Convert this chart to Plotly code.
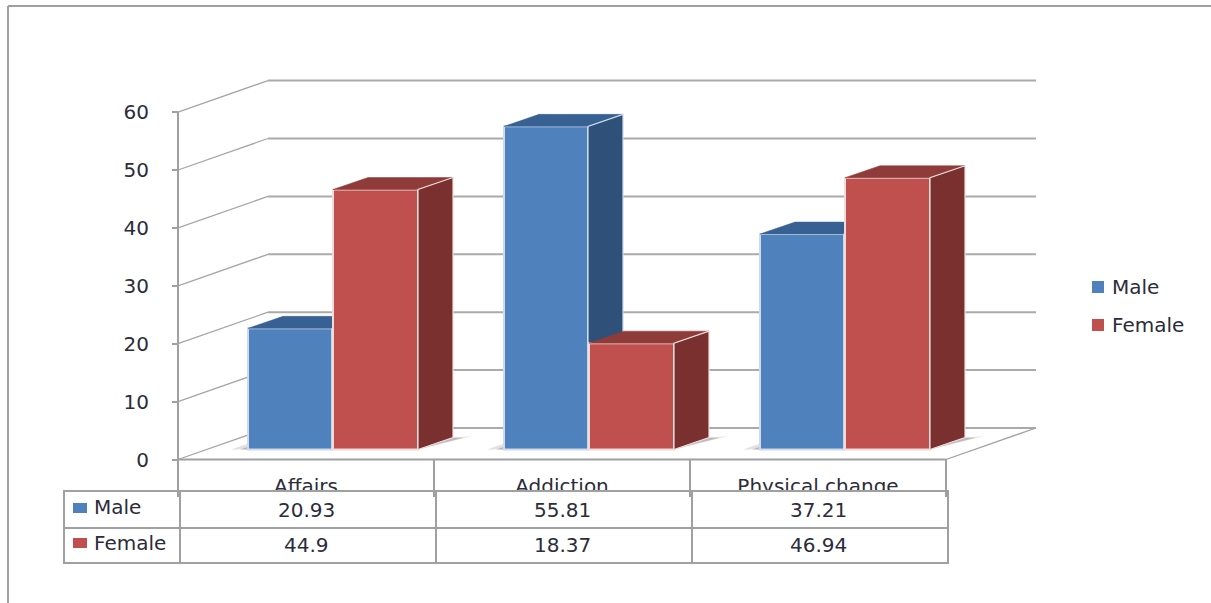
import plotly.graph_objects as go

# Chart data
categories = ["Affairs", "Addiction", "Physical change"]
male = [20.93, 55.81, 37.21]
female = [44.9, 18.37, 46.94]
series_names = ["Male", "Female"]
y_ticks = [0, 10, 20, 30, 40, 50, 60]

W, H = 1211, 603
FONT = "DejaVu Sans"
TEXT = "#2c2c3a"
FS = 20

# Projection of the box: one category = 256 px, one value unit = 5.79 px
X_PX, Y_PX = 256.0, 5.79
X0_PX, Y0_PX = 306.0, 459.5
DEPTH_X, DEPTH_Y = 90 / X_PX, 31.5 / Y_PX      # wall depth
BAR_DX, BAR_DY = 35 / X_PX, 12 / Y_PX          # bar depth
FLOOR = 10 / Y_PX                              # bars stand forward of the back wall
LEFT, RIGHT = -0.5, 2.5

x_range = [-X0_PX / X_PX, (W - X0_PX) / X_PX]
y_range = [(Y0_PX - H) / Y_PX, Y0_PX / Y_PX]

STYLE = {
    "Male": dict(front="#4f81bd", side="#2f5179", top="#386193", edge="#cfdaea",
                 left=-58 / X_PX, width=84 / X_PX),
    "Female": dict(front="#c0504d", side="#7a302e", top="#8f3b39", edge="#eddcdb",
                   left=27 / X_PX, width=85 / X_PX),
}


def px(x):
    return x / W


def py(y):
    return 1 - y / H


fig = go.Figure()

# Walls and floor of the box
for v in y_ticks:
    fig.add_trace(go.Scatter(x=[LEFT, LEFT + DEPTH_X], y=[v, v + DEPTH_Y], mode="lines",
                             line=dict(color="#a6a6a6", width=1.3), showlegend=False, hoverinfo="skip"))
    fig.add_trace(go.Scatter(x=[LEFT + DEPTH_X, RIGHT + DEPTH_X], y=[v + DEPTH_Y, v + DEPTH_Y], mode="lines",
                             line=dict(color="#aaaaaa", width=2), showlegend=False, hoverinfo="skip"))
fig.add_trace(go.Scatter(x=[LEFT, LEFT], y=[y_ticks[0], y_ticks[-1]], mode="lines",
                         line=dict(color="#a0a0a0", width=2), showlegend=False, hoverinfo="skip"))
fig.add_trace(go.Scatter(x=[LEFT, RIGHT], y=[0, 0], mode="lines",
                         line=dict(color="#a0a0a0", width=2), showlegend=False, hoverinfo="skip"))
fig.add_trace(go.Scatter(x=[RIGHT, RIGHT + DEPTH_X], y=[0, DEPTH_Y], mode="lines",
                         line=dict(color="#a0a0a0", width=1.3), showlegend=False, hoverinfo="skip"))

# Soft shadows cast on the floor by each group, a wide pale layer and a darker core
for i in range(len(categories)):
    base_l = i + STYLE["Male"]["left"]
    base_r = i + STYLE["Female"]["left"] + STYLE["Female"]["width"]
    top_r = base_r + BAR_DX
    for reach, drop, tint in ((0.075, 0.0, "rgba(170,170,170,0.30)"), (0.04, 0.25, "rgba(130,130,130,0.40)")):
        fig.add_trace(go.Scatter(
            x=[base_r, top_r, top_r + reach],
            y=[FLOOR, FLOOR + BAR_DY, FLOOR + BAR_DY + 0.2 - drop],
            mode="lines", fill="toself", fillcolor=tint,
            line=dict(width=0), showlegend=False, hoverinfo="skip"))
    for reach, tint in ((0.065, "rgba(170,170,170,0.35)"), (0.03, "rgba(130,130,130,0.45)")):
        fig.add_trace(go.Scatter(
            x=[base_l - reach, base_l, base_l],
            y=[FLOOR, FLOOR, FLOOR + reach * 16],
            mode="lines", fill="toself", fillcolor=tint,
            line=dict(width=0), showlegend=False, hoverinfo="skip"))


def add_series(name, values, xa, ya):
    """Side and top faces as polygons, front face as a bar, all from the values."""
    s = STYLE[name]
    fig.add_trace(go.Bar(x=list(range(len(values))), y=values, base=FLOOR, width=s["width"],
                         offset=s["left"], name=name, xaxis=xa, yaxis=ya, showlegend=False,
                         marker=dict(color=s["front"], line=dict(color=s["edge"], width=2))))
    for i, v in enumerate(values):
        l = i + s["left"]
        r = l + s["width"]
        t = v + FLOOR
        fig.add_trace(go.Scatter(x=[l, r, r + BAR_DX, l + BAR_DX, l],
                                 y=[t, t, t + BAR_DY, t + BAR_DY, t],
                                 mode="lines", fill="toself", fillcolor=s["top"],
                                 line=dict(color=s["top"], width=0.5), xaxis=xa, yaxis=ya,
                                 showlegend=False, hoverinfo="skip"))
        fig.add_trace(go.Scatter(x=[r, r + BAR_DX, r + BAR_DX, r, r],
                                 y=[FLOOR, FLOOR + BAR_DY, t + BAR_DY, t, FLOOR],
                                 mode="lines", fill="toself", fillcolor=s["side"],
                                 line=dict(color=s["edge"], width=1.2), xaxis=xa, yaxis=ya,
                                 showlegend=False, hoverinfo="skip"))


add_series("Male", male, "x2", "y2")
add_series("Female", female, "x3", "y3")

# Outer frame, data table and legend drawn in page fractions
LINE = dict(color="#a0a0a0", width=2)
shapes = [
    dict(type="line", xref="paper", yref="paper", x0=px(8), x1=px(8), y0=py(6), y1=py(H), line=LINE),
    dict(type="line", xref="paper", yref="paper", x0=px(8), x1=px(W), y0=py(6), y1=py(6), line=LINE),
    dict(type="rect", xref="paper", yref="paper", x0=px(64), x1=px(948), y0=py(491), y1=py(563),
         fillcolor="white", line=LINE, layer="above"),
    dict(type="line", xref="paper", yref="paper", x0=px(64), x1=px(948), y0=py(528), y1=py(528),
         line=LINE, layer="above"),
]
for c in (180, 436, 692):
    shapes.append(dict(type="line", xref="paper", yref="paper", x0=px(c), x1=px(c), y0=py(491), y1=py(563),
                       line=LINE, layer="above"))
for c in (178, 434, 690, 946):
    shapes.append(dict(type="line", xref="paper", yref="paper", x0=px(c), x1=px(c), y0=py(459), y1=py(497),
                       line=LINE, layer="above"))

annotations = []


def label(text, x, y, xref="paper", anchor="left"):
    annotations.append(dict(text=text, x=x, y=y, xref=xref, yref="paper", showarrow=False,
                            xanchor=anchor, yanchor="middle",
                            font=dict(family=FONT, size=FS, color=TEXT)))


for name, row_y, sw_y in zip(series_names, (507, 543), (508, 543)):
    color = STYLE[name]["front"]
    shapes.append(dict(type="rect", xref="paper", yref="paper", x0=px(73), x1=px(87),
                       y0=py(sw_y - 5), y1=py(sw_y + 5), fillcolor=color, line=dict(width=0), layer="above"))
    label(name, px(92), py(row_y))
for name, row_y in zip(series_names, (287, 325)):
    color = STYLE[name]["front"]
    shapes.append(dict(type="rect", xref="paper", yref="paper", x0=px(1092), x1=px(1104),
                       y0=py(row_y - 6), y1=py(row_y + 6), fillcolor=color, line=dict(width=0), layer="above"))
    label(name, px(1110), py(row_y))

for i, v in enumerate(male):
    label(f"{v:g}", i, py(510), xref="x", anchor="center")
for i, v in enumerate(female):
    label(f"{v:g}", i, py(545), xref="x", anchor="center")

axis_off = dict(range=x_range, visible=False, fixedrange=True)
yaxis_off = dict(range=y_range, visible=False, fixedrange=True)

fig.update_layout(
    width=W, height=H, margin=dict(l=0, r=0, t=0, b=0),
    paper_bgcolor="white", plot_bgcolor="white", showlegend=False, barmode="overlay",
    shapes=shapes, annotations=annotations,
    font=dict(family=FONT, size=FS, color=TEXT),
    xaxis=dict(range=x_range, domain=[0, 1], anchor="free", position=py(459), showgrid=False,
               zeroline=False, showline=False, ticks="", tickmode="array",
               tickvals=list(range(len(categories))), ticktext=categories, ticklabelstandoff=13,
               fixedrange=True),
    yaxis=dict(range=y_range, domain=[0, 1], anchor="free", position=px(178), showgrid=False,
               zeroline=False, showline=False, ticks="outside", ticklen=6, tickwidth=1.5,
               tickcolor="#a0a0a0", tickmode="array", tickvals=y_ticks,
               ticklabelstandoff=19, fixedrange=True),
    xaxis2=dict(axis_off, overlaying="x", anchor="y2"),
    yaxis2=dict(yaxis_off, overlaying="y", anchor="x2"),
    xaxis3=dict(axis_off, overlaying="x", anchor="y3"),
    yaxis3=dict(yaxis_off, overlaying="y", anchor="x3"),
)

fig.write_html("out.html", config={"displayModeBar": False})
